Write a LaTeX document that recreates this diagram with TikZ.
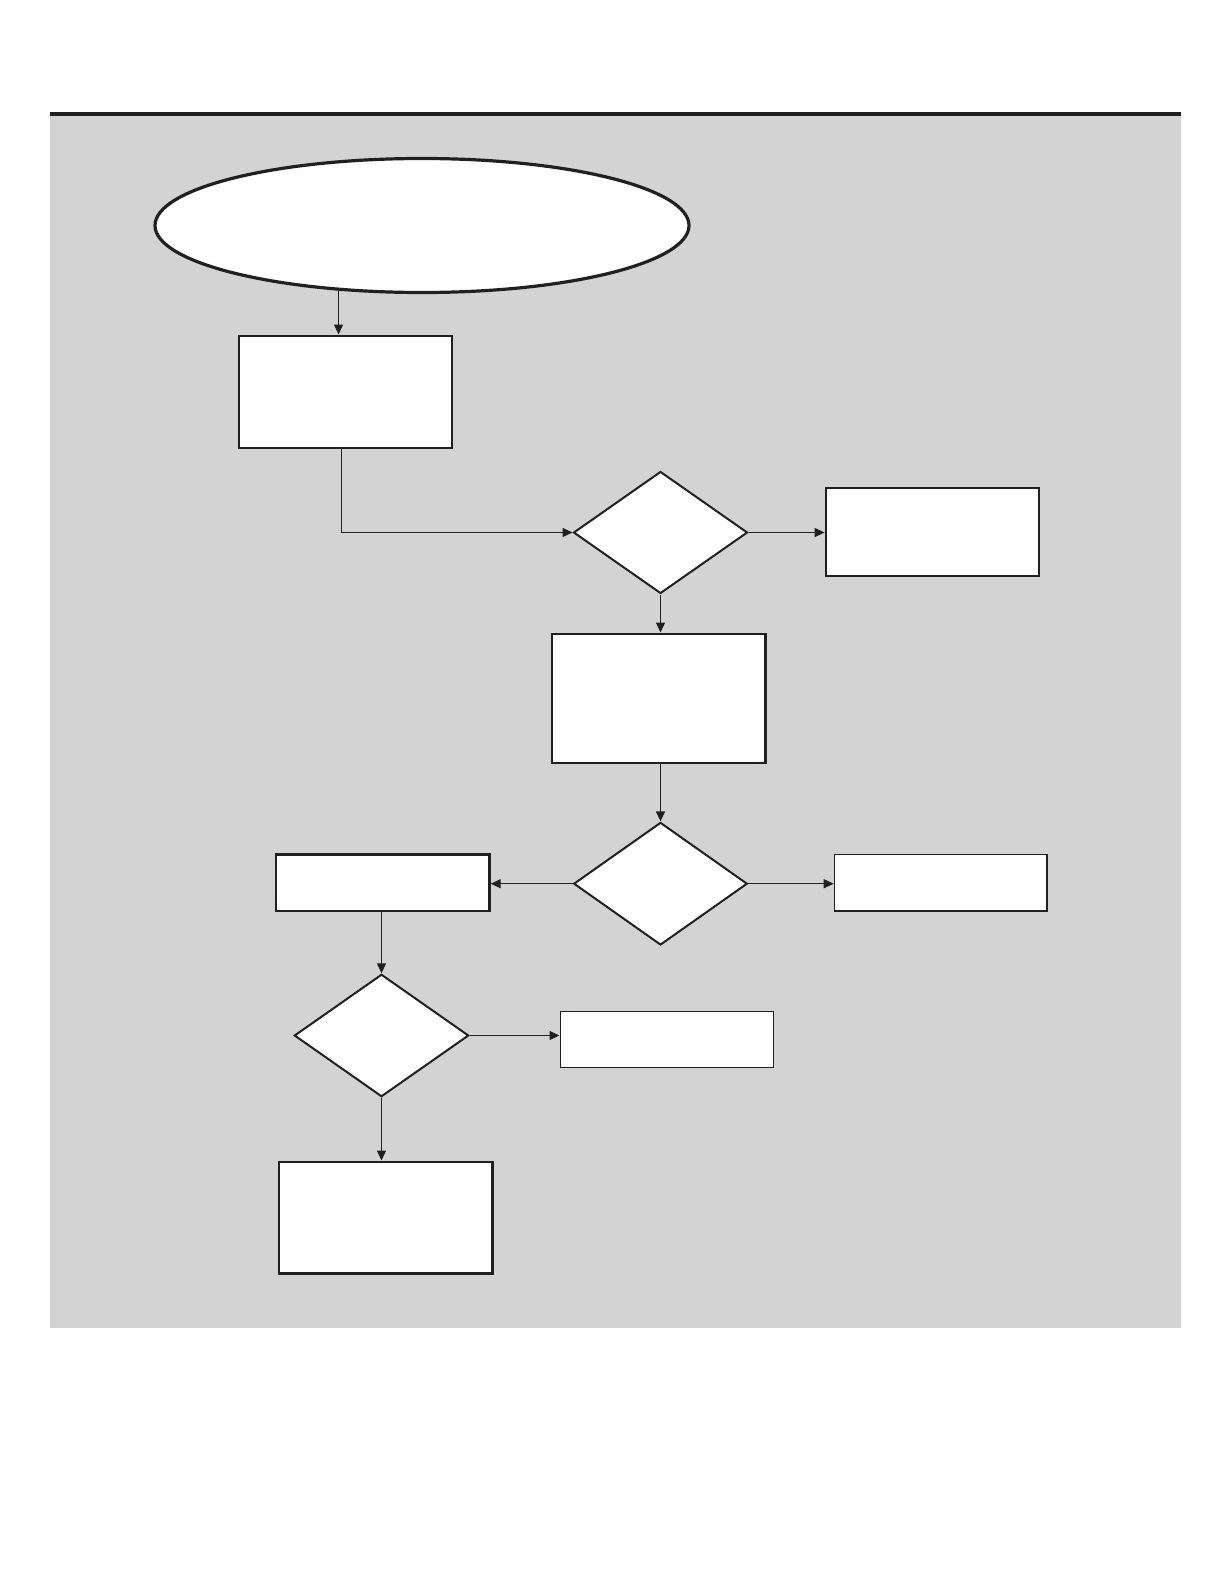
\documentclass[tikz,border=0pt]{standalone}
\usetikzlibrary{shapes.geometric,arrows.meta}
\definecolor{panel}{HTML}{D3D3D3}
\definecolor{ink}{HTML}{231F20}
\begin{document}
\begin{tikzpicture}[x=0.5pt,y=-0.5pt,
  box/.style={draw=ink,fill=white,rectangle,inner sep=0pt,line width=1.2pt},
  thinbox/.style={box,line width=0.8pt},
  dec/.style={draw=ink,fill=white,diamond,inner sep=0pt,line width=1pt},
  oval/.style={draw=ink,fill=white,ellipse,inner sep=0pt,line width=1.6pt},
  arr/.style={draw=ink,line width=0.6pt,-{Triangle[length=5pt,width=4.5pt]}}]
\useasboundingbox (0,0) rectangle (1224,1584);
\fill[white] (0,0) rectangle (1224,1584);
\fill[panel] (50,116) rectangle (1181,1328);
\fill[ink] (50,112.5) rectangle (1181,116);
% nodes
\node[oval,minimum width=267pt,minimum height=67pt] (e) at (422,225.5) {};
\node[box,minimum width=106.5pt,minimum height=56pt] (b1) at (345.7,391.7) {};
\node[dec,minimum width=87pt,minimum height=61pt] (d1) at (660.5,532.5) {};
\node[box,minimum width=106.5pt,minimum height=44pt] (r1) at (932.3,532.2) {};
\node[box,minimum width=106.8pt,minimum height=64.5pt] (b2) at (658.5,698.2) {};
\node[dec,minimum width=86.8pt,minimum height=61.3pt] (d2) at (660.5,883.7) {};
\node[box,minimum width=106.8pt,minimum height=28.3pt] (l2) at (382.7,882.7) {};
\node[thinbox,minimum width=106.3pt,minimum height=28.3pt] (r2) at (940.8,882.7) {};
\node[dec,minimum width=87.2pt,minimum height=61.2pt] (d3) at (381.5,1035.5) {};
\node[thinbox,minimum width=106.5pt,minimum height=28pt] (b3) at (666.8,1039.3) {};
\node[box,minimum width=106.8pt,minimum height=55.8pt] (b4) at (385.5,1217.5) {};
% connectors
\draw[arr] (e.218) -- (e.218 |- b1.north);
\draw[arr] ([xshift=-2pt]b1.south) |- (d1.west);
\draw[arr] (d1.east) -- (r1.west |- d1.east);
\draw[arr] (d1.south) -- (d1.south |- b2.north);
\draw[arr] (b2.south -| d2.north) -- (d2.north);
\draw[arr] (d2.west) -- (l2.east |- d2.west);
\draw[arr] (d2.east) -- (r2.west |- d2.east);
\draw[arr] (d3.north |- l2.south) -- (d3.north);
\draw[arr] (d3.east) -- (b3.west |- d3.east);
\draw[arr] (d3.south) -- (d3.south |- b4.north);
\end{tikzpicture}
\end{document}
